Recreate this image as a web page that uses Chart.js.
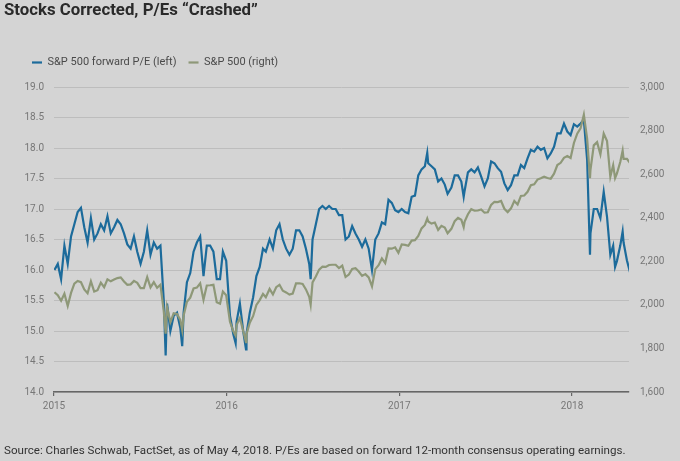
<!DOCTYPE html>
<html>
<head>
<meta charset="utf-8">
<script src="https://cdn.jsdelivr.net/npm/chart.js@4.4.1/dist/chart.umd.min.js"></script>
<style>
html,body{margin:0;padding:0;background:#d4d4d4;}
#wrap{position:relative;width:680px;height:461px;overflow:hidden;background:#d4d4d4;font-family:Roboto,"Open Sans",sans-serif;}
#title{position:absolute;left:4px;top:-1px;font-size:16.8px;font-weight:bold;color:#2a2a2a;white-space:nowrap;}
#source{position:absolute;left:4px;top:443px;font-size:11.6px;color:#333;white-space:nowrap;}
#c{position:absolute;left:0;top:0;}
</style>
</head>
<body>
<div id="wrap">
<canvas id="c" width="680" height="461"></canvas>
<div id="title">Stocks Corrected, P/Es “Crashed”</div>
<div id="source">Source: Charles Schwab, FactSet, as of May 4, 2018. P/Es are based on forward 12-month consensus operating earnings.</div>
</div>
<script>
// Observation dates (weekly, plus a few intraweek extremes)
const dates = [
"2015-01-02","2015-01-09","2015-01-16","2015-01-23","2015-01-30","2015-02-06","2015-02-13","2015-02-20","2015-02-27","2015-03-06",
"2015-03-13","2015-03-20","2015-03-27","2015-04-03","2015-04-10","2015-04-17","2015-04-24","2015-05-01","2015-05-08","2015-05-15",
"2015-05-22","2015-05-29","2015-06-05","2015-06-12","2015-06-19","2015-06-26","2015-07-03","2015-07-10","2015-07-17","2015-07-24",
"2015-07-31","2015-08-07","2015-08-14","2015-08-21","2015-08-25","2015-08-28","2015-09-04","2015-09-11","2015-09-18","2015-09-25",
"2015-09-29","2015-10-02","2015-10-09","2015-10-16","2015-10-23","2015-10-30","2015-11-06","2015-11-13","2015-11-20","2015-11-27",
"2015-12-04","2015-12-11","2015-12-18","2015-12-24","2015-12-31",
"2016-01-08","2016-01-15","2016-01-20","2016-01-22","2016-01-29","2016-02-05","2016-02-11","2016-02-12","2016-02-19","2016-02-26",
"2016-03-04","2016-03-11","2016-03-18","2016-03-24","2016-04-01","2016-04-08","2016-04-15","2016-04-22","2016-04-29","2016-05-06",
"2016-05-13","2016-05-20","2016-05-27","2016-06-03","2016-06-10","2016-06-17","2016-06-24","2016-06-27","2016-07-01","2016-07-08",
"2016-07-15","2016-07-22","2016-07-29","2016-08-05","2016-08-12","2016-08-19","2016-08-26","2016-09-02","2016-09-09","2016-09-16",
"2016-09-23","2016-09-30","2016-10-07","2016-10-14","2016-10-21","2016-10-28","2016-11-04","2016-11-11","2016-11-18","2016-11-25",
"2016-12-02","2016-12-09","2016-12-16","2016-12-23","2016-12-30",
"2017-01-06","2017-01-13","2017-01-20","2017-01-27","2017-02-03","2017-02-10","2017-02-17","2017-02-24","2017-03-01","2017-03-03",
"2017-03-10","2017-03-17","2017-03-24","2017-03-31","2017-04-07","2017-04-13","2017-04-21","2017-04-28","2017-05-05","2017-05-12",
"2017-05-17","2017-05-19","2017-05-26","2017-06-02","2017-06-09","2017-06-16","2017-06-23","2017-06-30","2017-07-07","2017-07-14",
"2017-07-21","2017-07-28","2017-08-04","2017-08-11","2017-08-18","2017-08-25","2017-09-01","2017-09-08","2017-09-15","2017-09-22",
"2017-09-29","2017-10-06","2017-10-13","2017-10-20","2017-10-27","2017-11-03","2017-11-10","2017-11-17","2017-11-24","2017-12-01",
"2017-12-08","2017-12-15","2017-12-22","2017-12-29",
"2018-01-05","2018-01-12","2018-01-19","2018-01-26","2018-02-02","2018-02-08","2018-02-09","2018-02-16","2018-02-23","2018-03-02",
"2018-03-09","2018-03-16","2018-03-23","2018-03-29","2018-04-02","2018-04-06","2018-04-13","2018-04-18","2018-04-20","2018-04-27",
"2018-05-04"
];

// S&P 500 forward P/E (left axis)
const forwardPE = [
16.0,16.1,15.85,16.4,16.1,16.55,16.75,16.95,17.02,16.7,
16.45,16.85,16.5,16.6,16.75,16.65,16.88,16.6,16.7,16.82,
16.75,16.6,16.42,16.35,16.55,16.3,16.1,16.3,16.65,16.25,
16.45,16.35,16.4,15.5,14.6,15.45,15.0,15.25,15.3,15.05,
14.75,15.3,15.8,15.95,16.3,16.45,16.55,15.9,16.4,16.4,
16.3,15.85,15.85,16.3,16.15,
15.25,14.95,14.8,15.15,15.45,15.0,14.7,14.95,15.3,15.55,
15.9,16.05,16.35,16.3,16.5,16.35,16.65,16.75,16.5,16.35,
16.25,16.35,16.65,16.65,16.55,16.35,16.1,15.85,16.5,16.75,
17.0,17.05,17.0,17.05,17.0,17.0,16.9,16.9,16.5,16.55,
16.72,16.6,16.5,16.38,16.5,16.35,16.0,16.5,16.6,16.78,
16.75,17.15,17.1,16.98,16.95,
17.0,16.95,16.93,17.2,17.22,17.55,17.65,17.7,17.92,17.75,
17.7,17.65,17.45,17.5,17.4,17.25,17.35,17.55,17.55,17.45,
17.2,17.3,17.6,17.65,17.6,17.68,17.53,17.37,17.5,17.78,
17.75,17.67,17.61,17.42,17.31,17.39,17.55,17.55,17.72,17.67,
17.83,17.97,17.94,18.02,17.97,18.0,17.83,17.91,18.02,18.24,
18.24,18.4,18.27,18.21,
18.39,18.35,18.4,18.46,17.8,16.25,16.6,17.0,17.0,16.85,
17.28,16.87,16.25,16.4,16.05,16.15,16.4,16.63,16.45,16.16,
15.95
];

// S&P 500 index level (right axis)
const spx = [
2058,2044,2019,2051,1995,2055,2097,2110,2104,2071,
2053,2108,2061,2067,2102,2081,2117,2108,2116,2123,
2126,2107,2092,2094,2110,2101,2077,2077,2127,2080,
2104,2078,2092,1971,1868,1989,1921,1961,1958,1931,
1884,1951,2014,2033,2075,2079,2099,2023,2089,2090,
2092,2012,2005,2061,2044,
1922,1880,1859,1907,1940,1880,1829,1865,1918,1948,
2000,2022,2050,2035,2073,2048,2081,2092,2065,2057,
2047,2052,2099,2099,2096,2071,2037,2001,2103,2130,
2162,2175,2174,2183,2184,2184,2169,2180,2128,2139,
2165,2168,2153,2133,2141,2126,2085,2164,2182,2213,
2192,2259,2258,2264,2239,
2277,2275,2271,2295,2297,2316,2351,2367,2396,2383,
2373,2378,2344,2363,2355,2329,2349,2384,2399,2391,
2357,2382,2416,2439,2432,2433,2438,2423,2425,2459,
2473,2472,2477,2441,2426,2443,2477,2461,2500,2502,
2519,2549,2553,2575,2581,2588,2582,2579,2602,2642,
2652,2675,2683,2674,
2743,2786,2810,2873,2762,2581,2620,2732,2747,2691,
2786,2752,2588,2641,2582,2604,2656,2708,2670,2670,
2650
];

const yearTicks = [2015, 2016, 2017, 2018];

function toYear(s) {
  const [y, m, d] = s.split("-").map(Number);
  const start = Date.UTC(y, 0, 1), end = Date.UTC(y + 1, 0, 1);
  return y + (Date.UTC(y, m - 1, d) - start) / (end - start);
}
const xs = dates.map(toYear);

const legendFix = {
  id: "legendFix",
  beforeUpdate(chart) {
    if (chart.legend && !chart.legend._patched) {
      const orig = chart.legend.fit;
      chart.legend.fit = function () { orig.call(this); this.height = 42; };
      chart.legend._patched = true;
    }
  }
};

const tickFont = { family: "Roboto, 'Open Sans', sans-serif", size: 10 };

new Chart(document.getElementById("c"), {
  type: "line",
  data: {
    datasets: [
      {
        label: "S&P 500 forward P/E (left)",
        data: xs.map((x, i) => ({ x, y: forwardPE[i] })),
        borderColor: "#1c6b9b",
        backgroundColor: "#1c6b9b",
        borderWidth: 2.2,
        pointRadius: 0,
        yAxisID: "y",
        order: 1
      },
      {
        label: "S&P 500 (right)",
        data: xs.map((x, i) => ({ x, y: spx[i] })),
        borderColor: "#8e9878",
        backgroundColor: "#8e9878",
        borderWidth: 2.2,
        pointRadius: 0,
        yAxisID: "y1",
        order: 0
      }
    ]
  },
  options: {
    responsive: false,
    animation: false,
    layout: { padding: { left: 20, right: 0, top: 45, bottom: 0 } },
    plugins: {
      tooltip: { enabled: false },
      legend: {
        position: "top",
        align: "start",
        labels: {
          usePointStyle: true,
          pointStyle: "line",
          pointStyleWidth: 10,
          padding: 12,
          color: "#4a4a4a",
          font: { family: "Roboto, 'Open Sans', sans-serif", size: 11 },
          sort: (a, b) => a.datasetIndex - b.datasetIndex
        }
      }
    },
    scales: {
      x: {
        type: "linear",
        min: 2015,
        max: 2018.33,
        afterFit(s) { s.height = 69; },
        afterBuildTicks(s) { s.ticks = yearTicks.map(v => ({ value: v })); },
        ticks: {
          padding: 4,
          color: "#777",
          font: tickFont,
          maxRotation: 0,
          callback: v => String(v)
        },
        grid: { drawOnChartArea: false, drawTicks: true, tickLength: 4, color: "#666", lineWidth: 1.2 },
        border: { display: true, color: "#666", width: 1.6 }
      },
      y: {
        position: "left",
        min: 14,
        max: 19,
        afterFit(s) { s.width = 34; },
        ticks: { stepSize: 0.5, padding: 10, color: "#777", font: tickFont, callback: v => Number(v).toFixed(1) },
        grid: { color: "#bdbdbd", lineWidth: 1, drawTicks: false },
        border: { display: false }
      },
      y1: {
        position: "right",
        min: 1600,
        max: 3000,
        afterFit(s) { s.width = 51; },
        ticks: { stepSize: 200, padding: 11, color: "#777", font: tickFont, callback: v => Number(v).toLocaleString("en-US") },
        grid: { drawOnChartArea: false, drawTicks: false },
        border: { display: false }
      }
    }
  },
  plugins: [legendFix]
});
</script>
</body>
</html>
